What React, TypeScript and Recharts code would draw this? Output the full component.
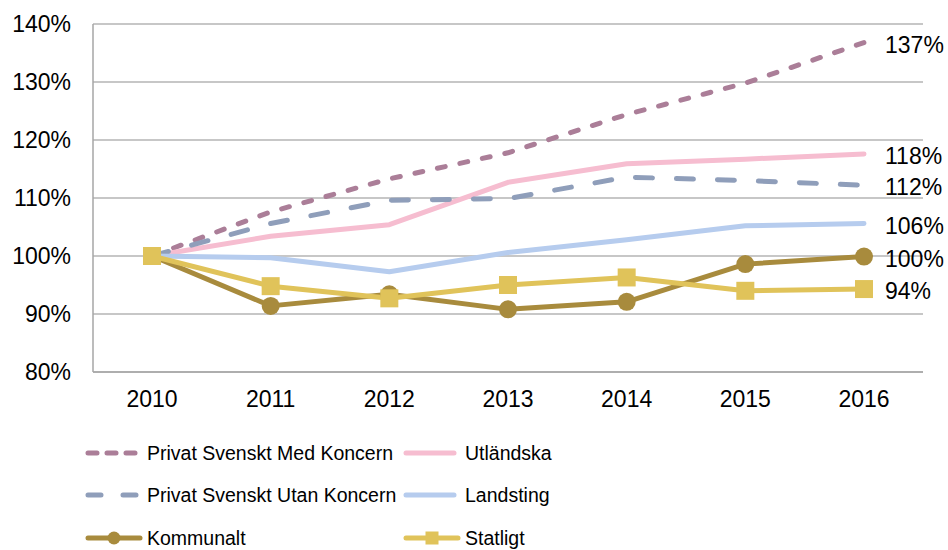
import React from "react";
import {
  LineChart,
  Line,
  XAxis,
  YAxis,
  CartesianGrid,
} from "recharts";

const years = ["2010", "2011", "2012", "2013", "2014", "2015", "2016"];
const privatMed = [100, 107.6, 113.3, 117.8, 124.4, 129.8, 136.8];
const utlandska = [100, 103.4, 105.4, 112.7, 115.9, 116.7, 117.6];
const privatUtan = [100, 105.6, 109.6, 109.9, 113.6, 113.0, 112.2];
const landsting = [100, 99.7, 97.3, 100.6, 102.8, 105.2, 105.6];
const kommunalt = [100, 91.4, 93.4, 90.8, 92.1, 98.6, 99.9];
const statligt = [100, 94.8, 92.7, 95.0, 96.3, 94.0, 94.3];
const yTicks = [80, 90, 100, 110, 120, 130, 140];

const FONT = '"Liberation Sans", Arial, sans-serif';

type Series = {
  key: string;
  name: string;
  values: number[];
  color: string;
  dash?: string;
  marker?: "circle" | "square";
};

// draw order matches excel: later ones on top
const series: Series[] = [
  { key: "med", name: "Privat Svenskt Med Koncern", values: privatMed, color: "#AB7E98", dash: "8 15" },
  { key: "utl", name: "Utländska", values: utlandska, color: "#F6BDD0" },
  { key: "utan", name: "Privat Svenskt Utan Koncern", values: privatUtan, color: "#8F9EBA", dash: "17 24" },
  { key: "land", name: "Landsting", values: landsting, color: "#B6CCEE" },
  { key: "komm", name: "Kommunalt", values: kommunalt, color: "#A88B3D", marker: "circle" },
  { key: "stat", name: "Statligt", values: statligt, color: "#E0C35A", marker: "square" },
];

const data = years.map((year, i) => {
  const row: Record<string, string | number> = { year };
  series.forEach((s) => {
    row[s.key] = s.values[i];
  });
  return row;
});

function renderDot(s: Series) {
  return (props: any) => {
    const { cx, cy, index } = props;
    if (s.marker === "circle") {
      return <circle key={`d-${s.key}-${index}`} cx={cx} cy={cy} r={9} fill={s.color} />;
    }
    return (
      <rect
        key={`d-${s.key}-${index}`}
        x={cx - 9}
        y={cy - 9}
        width={18}
        height={18}
        fill={s.color}
      />
    );
  };
}

function renderEndLabel(s: Series) {
  return (props: any) => {
    const { x, y, index, value } = props;
    if (index !== years.length - 1) return <g key={`l-${s.key}-${index}`} />;
    return (
      <text
        key={`l-${s.key}-${index}`}
        x={x + 21}
        y={y + 2}
        dominantBaseline="central"
        fontSize={23}
        fontFamily={FONT}
        fill="#000"
      >
        {Math.round(value)}%
      </text>
    );
  };
}

function LegendIcon({ s }: { s: Series }) {
  const w = s.marker ? 58 : 54;
  return (
    <svg width={w} height={14} style={{ display: "block" }}>
      <line
        x1={3}
        y1={7}
        x2={w - 3}
        y2={7}
        stroke={s.color}
        strokeWidth={5}
        strokeLinecap="round"
        strokeDasharray={s.dash ? (s.key === "med" ? "9 10" : "13 22") : undefined}
      />
      {s.marker === "circle" && <circle cx={w / 2} cy={7} r={6.5} fill={s.color} />}
      {s.marker === "square" && (
        <rect x={w / 2 - 6.5} y={0.5} width={13} height={13} fill={s.color} />
      )}
    </svg>
  );
}

function ChartLegend() {
  const cols = [85, 403];
  const rows = [453, 495, 538];
  const order = ["med", "utl", "utan", "land", "komm", "stat"];
  return (
    <>
      {order.map((k, i) => {
        const s = series.find((x) => x.key === k)!;
        const left = cols[i % 2];
        const top = rows[Math.floor(i / 2)];
        return (
          <div
            key={k}
            style={{
              position: "absolute",
              left,
              top: top - 12,
              height: 24,
              display: "flex",
              alignItems: "center",
              fontFamily: FONT,
              fontSize: 19.5,
              color: "#000",
              whiteSpace: "nowrap",
            }}
          >
            <LegendIcon s={s} />
            <span style={{ marginLeft: s.marker ? 4 : 8 }}>{s.name}</span>
          </div>
        );
      })}
    </>
  );
}

export default function App() {
  return (
    <div
      style={{
        position: "absolute",
        left: 0,
        top: 0,
        width: 948,
        height: 550,
        background: "#fff",
      }}
    >
      <LineChart
        width={948}
        height={550}
        data={data}
        margin={{ top: 24, right: 25, left: 0, bottom: 147 }}
      >
        <CartesianGrid vertical={false} stroke="#B4B4B4" strokeWidth={1.5} />
        <XAxis
          dataKey="year"
          padding={{ left: 59, right: 59 }}
          tickLine={false}
          tickSize={0}
          tickMargin={19}
          height={31}
          axisLine={{ stroke: "#A6A6A6", strokeWidth: 1.5 }}
          tick={{ fill: "#000", fontSize: 23, fontFamily: FONT }}
          interval={0}
        />
        <YAxis
          domain={[80, 140]}
          ticks={yTicks}
          width={93}
          tickLine={false}
          tickSize={0}
          tickMargin={22}
          axisLine={{ stroke: "#A6A6A6", strokeWidth: 1.5 }}
          tick={{ fill: "#000", fontSize: 23, fontFamily: FONT }}
          tickFormatter={(v) => `${v}%`}
        />
        {series.map((s) => (
          <Line
            key={s.key}
            dataKey={s.key}
            name={s.name}
            type="linear"
            stroke={s.color}
            strokeWidth={5}
            strokeDasharray={s.dash}
            strokeLinecap="round"
            strokeLinejoin="round"
            dot={s.marker ? renderDot(s) : false}
            activeDot={false}
            label={renderEndLabel(s)}
            isAnimationActive={false}
          />
        ))}
      </LineChart>
      <ChartLegend />
    </div>
  );
}
